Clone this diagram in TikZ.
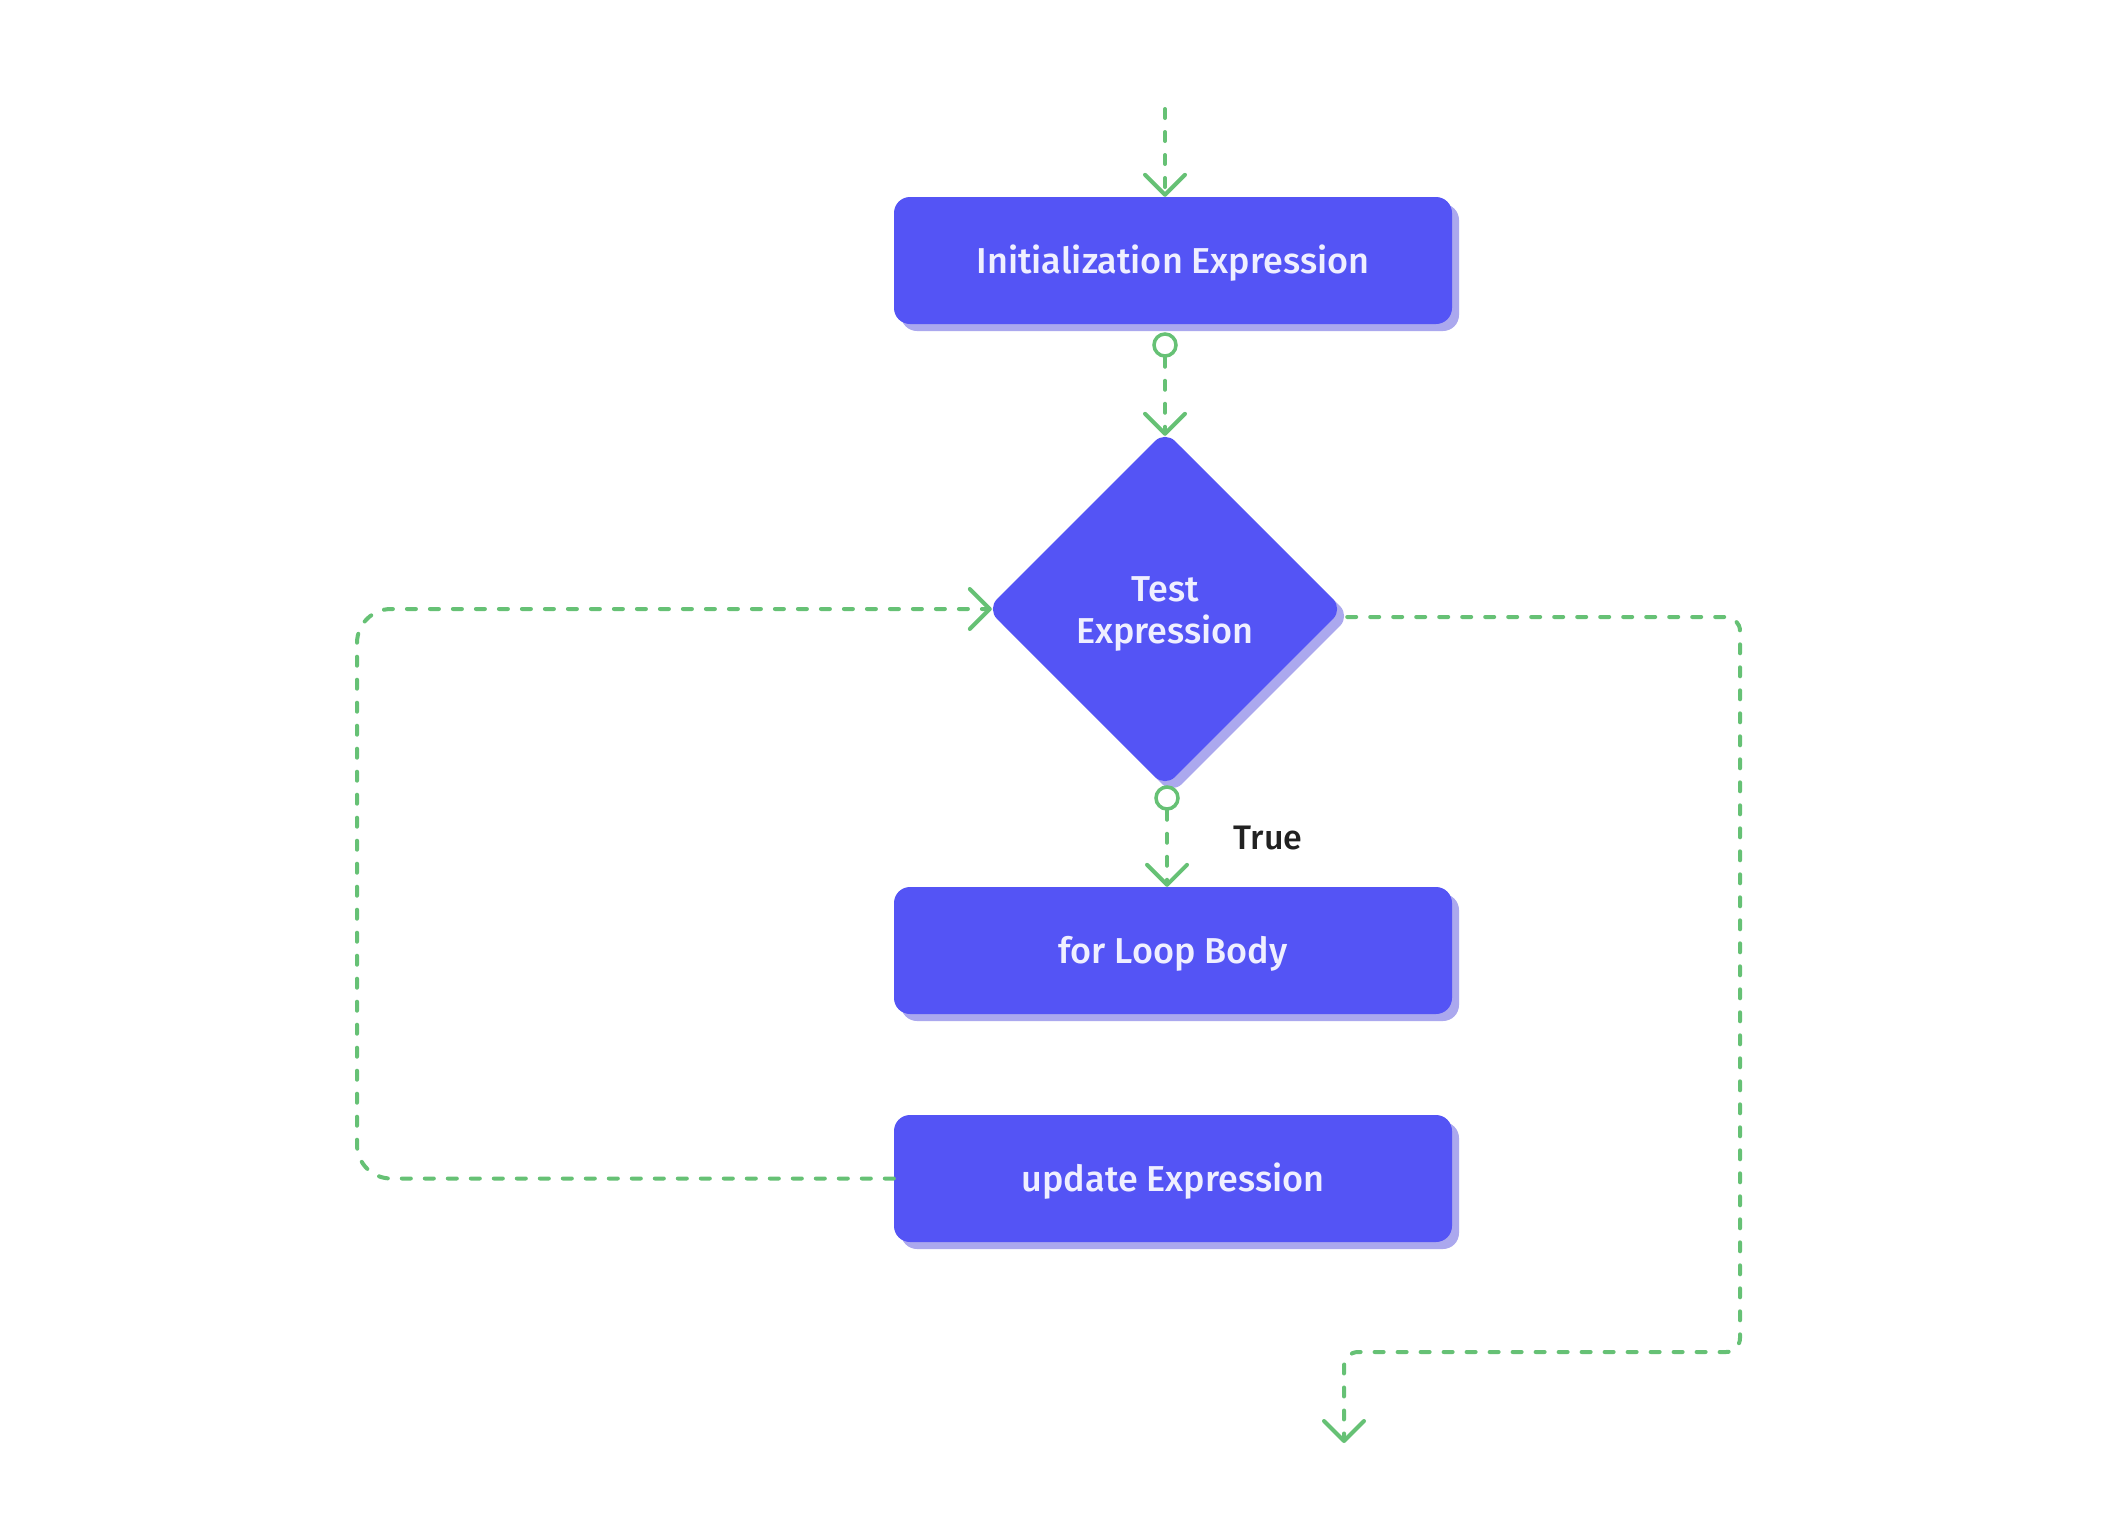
\documentclass[tikz,border=0pt]{standalone}
\usepackage{fontspec}
\setmainfont{Fira Sans Medium}
\usetikzlibrary{arrows.meta,shapes.geometric,shadows,calc}
\definecolor{boxc}{HTML}{5454F5}
\definecolor{shadc}{HTML}{ABA8EE}
\definecolor{linec}{HTML}{66C175}
\definecolor{txtc}{HTML}{EFEFFF}
\definecolor{darktxt}{HTML}{222222}
\begin{document}
\begin{tikzpicture}[x=1pt,y=-1pt,
  procbox/.style={rectangle, rounded corners=16pt, fill=boxc, minimum width=558pt, minimum height=127pt,
    text=txtc, font=\fontsize{36}{42}\selectfont, inner sep=0pt, text height=26pt, text depth=0pt,
    drop shadow={shadow xshift=7pt, shadow yshift=-7pt, fill=shadc, opacity=1}},
  decide/.style={diamond, aspect=1, minimum width=356pt, minimum height=356pt, inner sep=0pt,
    rounded corners=14pt, fill=boxc, text=txtc, font=\fontsize{36}{42}\selectfont,
    drop shadow={shadow xshift=7pt, shadow yshift=-7pt, fill=shadc, opacity=1}},
  conn/.style={draw=linec, line width=4pt, line cap=round, dash pattern=on 9pt off 14pt},
  barb/.style={-{Straight Barb[length=20pt,width=40pt,round]}},
  startdot/.style={circle, draw=linec, line width=3.5pt, minimum size=22pt, inner sep=0pt, fill=white},
  lbl/.style={text=darktxt, font=\fontsize{34}{40}\selectfont, inner sep=0pt}
]
\useasboundingbox (0,0) rectangle (2114,1516);
\fill[white] (0,0) rectangle (2114,1516);

\node[procbox] (init) at (1173,260.5) {Initialization Expression};
\node[decide] (diam) at (1165,609) {\raisebox{-5pt}[\height][\depth]{\begin{tabular}{@{}c@{}}Test\\Expression\end{tabular}}};
\node[procbox] (body) at (1173,950.5) {for Loop Body};
\node[procbox] (upd) at (1173,1178.5) {update Expression};
\node[lbl] (true) at (1268,838) {True};
\node[startdot] (c1) at (1165,345) {};
\node[startdot] (c2) at (1167,798) {};

\coordinate (top) at (1165,109);
\coordinate (lx) at (357,609);
\coordinate (rx) at (1740,1352);
\coordinate (ex) at (1344,1443);

\draw[conn, barb] (top) -- (top |- init.north);
\draw[conn, barb, shorten >=-5pt] (c1.south) -- (diam.north);
\draw[conn, barb] (c2.south) -- (c2.south |- body.north);
\draw[conn, barb, rounded corners=34pt, shorten >=-5pt] (upd.west) -| (lx) -- (diam.west);
\draw[conn, barb, rounded corners=14pt] ($(diam.east)+(4,8)$) -| (rx) -| (ex);
\end{tikzpicture}
\end{document}
